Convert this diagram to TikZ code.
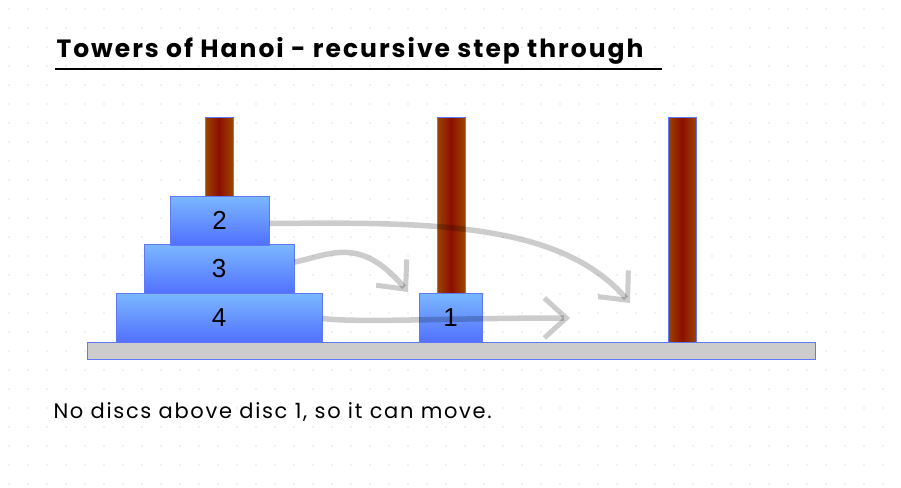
\documentclass[tikz,border=0pt]{standalone}
\usepackage{fontspec}
\setmainfont{Poppins}
\newfontfamily\hand[LetterSpace=8]{Poppins}
\newfontfamily\numfont{Liberation Sans}
\usetikzlibrary{arrows.meta}
\definecolor{discTop}{RGB}{122,184,255}
\definecolor{discBot}{RGB}{82,112,255}
\definecolor{discEdge}{RGB}{95,120,250}
\definecolor{pegEdgeC}{RGB}{155,70,0}
\definecolor{pegMid}{RGB}{140,15,0}
\begin{document}
\begin{tikzpicture}[x=1pt,y=-1pt,
  disc/.style={draw=discEdge,line width=1pt,top color=discTop,bottom color=discBot,minimum height=49pt,inner sep=0pt,font=\numfont\fontsize{26}{26}\selectfont},
  peg/.style={left color=pegEdgeC,right color=pegEdgeC,middle color=pegMid},
  mv/.style={draw=black,draw opacity=0.2,line width=5.5pt,-{Straight Barb[length=22pt,width=40pt,line width=5pt]}}]
\useasboundingbox (0,0) rectangle (901,487);
\fill[white] (0,0) rectangle (901,487);
\foreach \i in {0,...,47} \foreach \j in {0,...,25}
  \fill[black!25] (9+19*\i,9+19*\j) circle (0.7pt);
% title
\node[anchor=west,font=\hand\fontsize{25}{25}\selectfont\bfseries] (title) at (53,51) {Towers of Hanoi - recursive step through};
\draw[line width=2.2pt] (55,69) -- (662,69);
% pegs
\shade[peg] (205,117) rectangle (233,342);
\draw[discEdge,line width=0.8pt] (205,117) rectangle (233,342);
\shade[peg] (437,117) rectangle (465,342);
\draw[discEdge,line width=0.8pt] (437,117) rectangle (465,342);
\shade[peg] (668,117) rectangle (696,342);
\draw[discEdge,line width=0.8pt] (668,117) rectangle (696,342);
% base
\node[draw=discEdge,fill=black!20,line width=1pt,minimum width=728pt,minimum height=17pt,inner sep=0pt] (base) at (451,350.5) {};
% discs
\node[disc,minimum width=206pt] (d4) at (219,317.5) {4};
\node[disc,minimum width=150pt] (d3) at (219,269) {3};
\node[disc,minimum width=99pt] (d2) at (219.5,220.5) {2};
\node[disc,minimum width=63pt] (d1) at (450.5,317.5) {1};
\coordinate (t2) at (630,303);
\coordinate (t3) at (408,292);
\coordinate (t4) at (570,318);
% moves
\draw[mv] (d2.east) ++(0,3) .. controls (430,222) and (560,222) .. (t2);
\draw[mv] (d3.east) ++(0,-7) .. controls (330,255) and (360,235) .. (t3);
\draw[mv] (d4.east) ++(0,1) .. controls (360,323) and (450,318) .. (t4);
\node[anchor=west,font=\hand\fontsize{21}{21}\selectfont] (note) at (50,412) {No discs above disc 1, so it can move.};
\end{tikzpicture}
\end{document}
